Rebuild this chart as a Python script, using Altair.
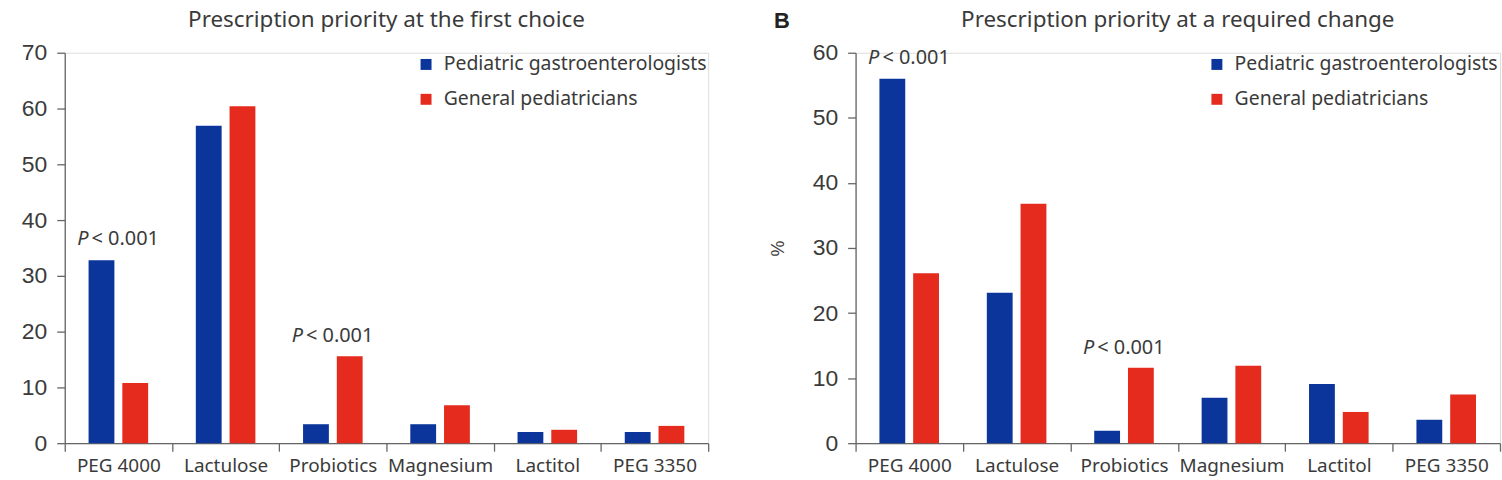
import altair as alt
import pandas as pd

categories = ["PEG 4000", "Lactulose", "Probiotics", "Magnesium", "Lactitol", "PEG 3350"]
groups = ["Pediatric gastroenterologists", "General pediatricians"]
colors = ["#0c359b", "#e42b1e"]

first_gastro = [32.8, 56.9, 3.4, 3.4, 2.0, 2.0]
first_general = [10.8, 60.4, 15.6, 6.8, 2.4, 3.1]
change_gastro = [56.0, 23.1, 1.9, 7.0, 9.1, 3.6]
change_general = [26.1, 36.8, 11.6, 11.9, 4.8, 7.5]

first_p_cats = ["PEG 4000", "Probiotics"]
first_p_y = [36.6, 19.3]
change_p_cats = ["PEG 4000", "Probiotics"]
change_p_y = [59.2, 14.6]

title_a = "Prescription priority at the first choice"
title_b = "Prescription priority at a required change"
panel_b_label = "B"

HUM = "Noto Sans"
NUM = "Liberation Sans"
TXT = "#3a3a3a"
AX = "#666666"
W_L, W_R, H = 646, 647, 392


def panel(gastro, general, p_cats, p_y, title, ymax, ytitle, width, letter=None):
    df = pd.DataFrame({
        "cat": categories * 2,
        "group": [groups[0]] * len(categories) + [groups[1]] * len(categories),
        "value": gastro + general,
    })
    x = alt.X("cat:N", sort=categories, title=None,
              scale=alt.Scale(paddingInner=0, paddingOuter=0),
              axis=alt.Axis(labelAngle=0, tickBand="extent", tickSize=8, labelPadding=5,
                            labelFont=HUM, labelFontSize=19, labelColor=TXT,
                            domainColor=AX, tickColor=AX, domainWidth=1.3, tickWidth=1.3))
    yaxis = dict(values=list(range(0, ymax + 1, 10)), tickSize=8, labelPadding=10,
                 labelFont=NUM, labelFontSize=23, labelColor=TXT, grid=False,
                 domainColor=AX, tickColor=AX, domainWidth=1.3, tickWidth=1.3)
    if ytitle:
        yaxis.update(title=ytitle, titleFont=NUM, titleFontSize=18, titleFontWeight="normal",
                     titleColor=TXT, titlePadding=25)
    else:
        yaxis.update(title=None)
    y = alt.Y("value:Q", scale=alt.Scale(domain=[0, ymax], nice=False), axis=alt.Axis(**yaxis))

    bars = alt.Chart(df).mark_bar().encode(
        x=x,
        xOffset=alt.XOffset("group:N", sort=groups,
                            scale=alt.Scale(paddingInner=0.235, paddingOuter=0.706)),
        y=y,
        color=alt.Color("group:N", sort=groups,
                        scale=alt.Scale(domain=groups, range=colors),
                        legend=alt.Legend(title=None, orient="none", legendX=353, legendY=2,
                                          symbolType="square", symbolSize=121, symbolStrokeWidth=0,
                                          labelFont=HUM, labelFontSize=19.5, labelColor=TXT,
                                          labelLimit=0, labelOffset=8, rowPadding=14, padding=0)),
    )
    pdf = pd.DataFrame({"cat": p_cats, "value": p_y})
    p_it = alt.Chart(pdf).mark_text(text="P", fontStyle="italic", align="right", baseline="middle",
                                    dx=-30, font=HUM, fontSize=20, color=TXT).encode(x=x, y=y)
    p_val = alt.Chart(pdf).mark_text(text="< 0.001", align="left", baseline="middle",
                                     dx=-27, font=HUM, fontSize=20, color=TXT).encode(x=x, y=y)
    tdf = pd.DataFrame({"t": [title]})
    ttl = alt.Chart(tdf).mark_text(align="center", baseline="middle", font=HUM, fontSize=22.5,
                                   color=TXT).encode(text="t:N", x=alt.value(width / 2), y=alt.value(-33))
    layers = [bars, p_it, p_val, ttl]
    if letter:
        ldf = pd.DataFrame({"t": [letter]})
        layers.append(alt.Chart(ldf).mark_text(align="left", baseline="middle", font=NUM, fontSize=22,
                                               fontWeight="bold", color="#222222").encode(
            text="t:N", x=alt.value(-82), y=alt.value(-32)))
    return alt.layer(*layers).properties(width=width, height=H)


left = panel(first_gastro, first_general, first_p_cats, first_p_y, title_a, 70, None, W_L)
right = panel(change_gastro, change_general, change_p_cats, change_p_y, title_b, 60, "%", W_R,
              letter=panel_b_label)

chart = alt.hconcat(left, right, spacing=58).resolve_scale(
    color="independent", x="independent", y="independent"
).properties(
    padding={"left": 20, "top": 7, "right": 0, "bottom": 0}
).configure_view(stroke="transparent", strokeWidth=0).configure(background="white")

chart.save("out.html", embed_options={"renderer": "svg", "actions": False})
